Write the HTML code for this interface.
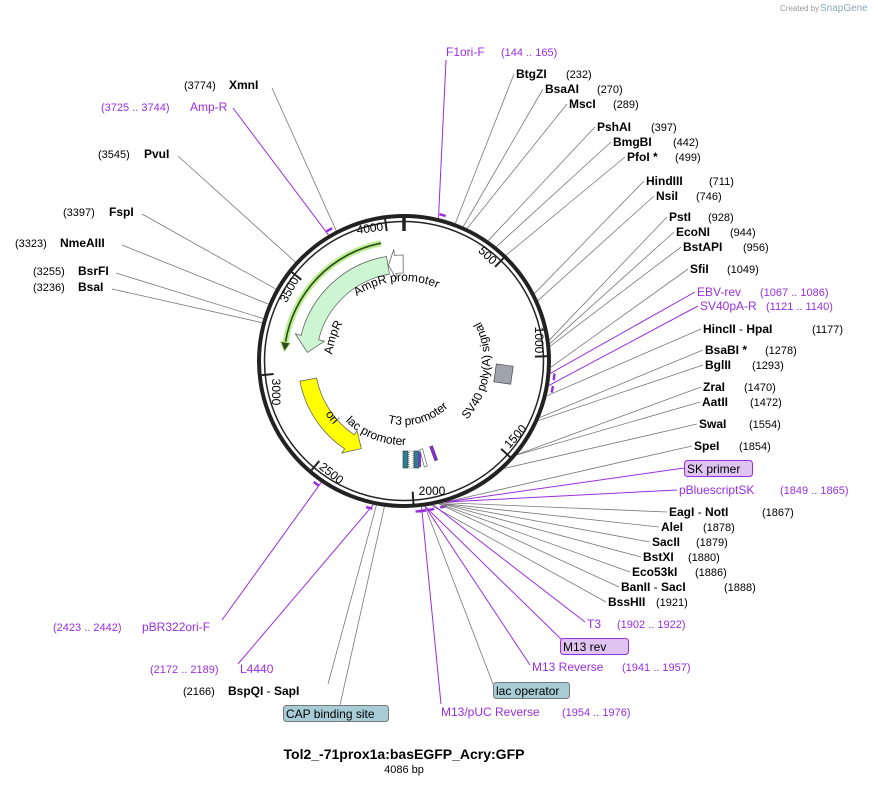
<!DOCTYPE html>
<html><head><meta charset="utf-8"><style>
body{margin:0;background:#fff;}
svg{display:block;font-family:"Liberation Sans",sans-serif;}
.n{font-size:12px;font-weight:bold;fill:#000}
.c{font-size:11px;fill:#000}
.p{font-size:12px;fill:#9a2ee0}
.pc{font-size:11px;fill:#9a2ee0}
.t{font-size:12px;fill:#000}
</style></head><body>
<svg id="s" width="878" height="812" viewBox="0 0 878 812" xmlns="http://www.w3.org/2000/svg">
<defs>
<path id="cw80" d="M404,441 A80,80 0 1,1 404,281 A80,80 0 1,1 404,441"/>
<path id="cw72" d="M404,433 A72,72 0 1,1 404,289 A72,72 0 1,1 404,433"/>
<path id="ccw86" d="M404,275 A86,86 0 1,0 404,447 A86,86 0 1,0 404,275"/>
<path id="ccw84" d="M404,277 A84,84 0 1,0 404,445 A84,84 0 1,0 404,277"/>
<path id="ccw64" d="M404,297 A64,64 0 1,0 404,425 A64,64 0 1,0 404,297"/>
<path id="ccw95" d="M404,266 A95,95 0 1,0 404,456 A95,95 0 1,0 404,266"/>
</defs>
<g id="lines"></g>
<circle cx="404" cy="361" r="145" fill="none" stroke="#222" stroke-width="4"/>
<circle cx="404" cy="361" r="139.5" fill="none" stroke="#222" stroke-width="1.5"/>
<g id="ticks"></g>
<g id="feat"></g>
<rect x="403" y="451" width="5" height="17" fill="#2e7f8f" stroke="#333" stroke-width="0.6"/>
<rect x="409" y="451" width="4" height="17" fill="#fff" stroke="#333" stroke-width="0.6" stroke-dasharray="1,1"/>
<rect x="414" y="451" width="5" height="17" fill="#2e7f8f" stroke="#333" stroke-width="0.6"/>
<rect x="419" y="452" width="2" height="15" fill="#8a2be2"/>
<rect x="422" y="449" width="3" height="18" fill="#fff" stroke="#555" stroke-width="0.6" transform="rotate(-15 423 458)"/>
<rect x="432" y="446" width="3" height="15" fill="#8a2be2" stroke="#333" stroke-width="0.5" transform="rotate(-20 433 453)"/>
<rect x="495" y="365" width="17" height="18" fill="#9fa3ab" stroke="#555" stroke-width="0.8" transform="rotate(8 503 374)"/>
<!-- feature labels -->
<text class="t"><textPath href="#cw80" startOffset="243" text-anchor="middle">AmpR promoter</textPath></text>
<text class="t"><textPath href="#cw72" startOffset="136" text-anchor="middle">AmpR</textPath></text>
<text class="t"><textPath href="#ccw86" startOffset="393" text-anchor="middle">SV40 poly(A) signal</textPath></text>
<text class="t"><textPath href="#ccw84" startOffset="232" text-anchor="middle">lac promoter</textPath></text>
<text class="t"><textPath href="#ccw64" startOffset="217" text-anchor="middle">T3 promoter</textPath></text>
<text class="t"><textPath href="#ccw95" startOffset="212" text-anchor="middle" dy="4">ori</textPath></text>
<!-- tick numbers -->
<g class="t" dominant-baseline="middle">
<text x="370" y="229" transform="rotate(-8 370 229)" text-anchor="middle">4000</text>
<text x="487" y="256" transform="rotate(44 487 256)" text-anchor="middle">500</text>
<text x="538" y="340" transform="rotate(90 538 340)" text-anchor="middle">1000</text>
<text x="516" y="437" transform="rotate(-48 516 437)" text-anchor="middle">1500</text>
<text x="432" y="492" text-anchor="middle">2000</text>
<text x="331" y="474" transform="rotate(38 331 474)" text-anchor="middle">2500</text>
<text x="275" y="392" transform="rotate(90 275 392)" text-anchor="middle">3000</text>
<text x="290" y="290" transform="rotate(-62 290 290)" text-anchor="middle">3500</text>
</g>
<!-- right labels -->
<text x="446" y="56" class="p">F1ori-F</text><text x="501" y="56" class="pc">(144 .. 165)</text>
<text x="516" y="78" class="n">BtgZI</text><text x="566" y="78" class="c">(232)</text>
<text x="545" y="93" class="n">BsaAI</text><text x="597" y="93" class="c">(270)</text>
<text x="569" y="108" class="n">MscI</text><text x="613" y="108" class="c">(289)</text>
<text x="597" y="131" class="n">PshAI</text><text x="651" y="131" class="c">(397)</text>
<text x="613" y="146" class="n">BmgBI</text><text x="673" y="146" class="c">(442)</text>
<text x="627" y="161" class="n">PfoI *</text><text x="675" y="161" class="c">(499)</text>
<text x="646" y="185" class="n">HindIII</text><text x="709" y="185" class="c">(711)</text>
<text x="656" y="200" class="n">NsiI</text><text x="696" y="200" class="c">(746)</text>
<text x="669" y="221" class="n">PstI</text><text x="708" y="221" class="c">(928)</text>
<text x="676" y="236" class="n">EcoNI</text><text x="730" y="236" class="c">(944)</text>
<text x="683" y="251" class="n">BstAPI</text><text x="743" y="251" class="c">(956)</text>
<text x="690" y="273" class="n">SfiI</text><text x="727" y="273" class="c">(1049)</text>
<text x="697" y="296" class="p">EBV-rev</text><text x="760" y="296" class="pc">(1067 .. 1086)</text>
<text x="700" y="310" class="p">SV40pA-R</text><text x="766" y="310" class="pc">(1121 .. 1140)</text>
<text x="703" y="333" class="n">HincII <tspan font-weight="normal">-</tspan> HpaI</text><text x="812" y="333" class="c">(1177)</text>
<text x="705" y="354" class="n">BsaBI *</text><text x="765" y="354" class="c">(1278)</text>
<text x="705" y="369" class="n">BglII</text><text x="752" y="369" class="c">(1293)</text>
<text x="703" y="391" class="n">ZraI</text><text x="744" y="391" class="c">(1470)</text>
<text x="702" y="406" class="n">AatII</text><text x="750" y="406" class="c">(1472)</text>
<text x="699" y="428" class="n">SwaI</text><text x="749" y="428" class="c">(1554)</text>
<text x="694" y="450" class="n">SpeI</text><text x="739" y="450" class="c">(1854)</text>
<rect x="684.5" y="460.5" width="68" height="16" rx="3" fill="#dfc4f2" stroke="#9a2ee0"/>
<text x="687" y="473" class="t">SK primer</text>
<text x="679" y="494" class="p">pBluescriptSK</text><text x="780" y="494" class="pc">(1849 .. 1865)</text>
<text x="669" y="516" class="n">EagI <tspan font-weight="normal">-</tspan> NotI</text><text x="762" y="516" class="c">(1867)</text>
<text x="661" y="531" class="n">AleI</text><text x="703" y="531" class="c">(1878)</text>
<text x="652" y="546" class="n">SacII</text><text x="696" y="546" class="c">(1879)</text>
<text x="643" y="561" class="n">BstXI</text><text x="688" y="561" class="c">(1880)</text>
<text x="632" y="576" class="n">Eco53kI</text><text x="695" y="576" class="c">(1886)</text>
<text x="621" y="591" class="n">BanII <tspan font-weight="normal">-</tspan> SacI</text><text x="724" y="591" class="c">(1888)</text>
<text x="608" y="606" class="n">BssHII</text><text x="656" y="606" class="c">(1921)</text>
<text x="587" y="628" class="p">T3</text><text x="617" y="628" class="pc">(1902 .. 1922)</text>
<rect x="560.5" y="638.5" width="68" height="16" rx="3" fill="#dfc4f2" stroke="#9a2ee0"/>
<text x="563" y="651" class="t">M13 rev</text>
<text x="532" y="671" class="p">M13 Reverse</text><text x="622" y="671" class="pc">(1941 .. 1957)</text>
<rect x="493.5" y="682.5" width="76" height="16" rx="3" fill="#a8ccd6" stroke="#777"/>
<text x="496" y="695" class="t">lac operator</text>
<text x="441" y="716" class="p">M13/pUC Reverse</text><text x="562" y="716" class="pc">(1954 .. 1976)</text>
<rect x="283.5" y="705.5" width="105" height="16" rx="3" fill="#a8ccd6" stroke="#777"/>
<text x="286" y="718" class="t">CAP binding site</text>
<text x="183" y="695" class="c">(2166)</text><text x="228" y="695" class="n">BspQI <tspan font-weight="normal">-</tspan> SapI</text>
<text x="150" y="673" class="pc">(2172 .. 2189)</text><text x="240" y="673" class="p">L4440</text>
<text x="53" y="631" class="pc">(2423 .. 2442)</text><text x="142" y="631" class="p">pBR322ori-F</text>
<!-- left labels -->
<text x="184" y="89" class="c">(3774)</text><text x="229" y="89" class="n">XmnI</text>
<text x="101" y="111" class="pc">(3725 .. 3744)</text><text x="190" y="111" class="p">Amp-R</text>
<text x="98" y="158" class="c">(3545)</text><text x="144" y="158" class="n">PvuI</text>
<text x="63" y="216" class="c">(3397)</text><text x="109" y="216" class="n">FspI</text>
<text x="15" y="247" class="c">(3323)</text><text x="60" y="247" class="n">NmeAIII</text>
<text x="33" y="275" class="c">(3255)</text><text x="78" y="275" class="n">BsrFI</text>
<text x="33" y="291" class="c">(3236)</text><text x="78" y="291" class="n">BsaI</text>
<text x="404" y="759" text-anchor="middle" font-size="14" font-weight="bold">Tol2_-71prox1a:basEGFP_Acry:GFP</text>
<text x="404" y="773" text-anchor="middle" font-size="11">4086 bp</text>
<text x="780" y="11" font-size="8" fill="#999">Created by</text><text x="820" y="11" font-size="10" fill="#8ab">SnapGene</text>
</svg>
<script>
var N=4086,cx=404,cy=361;
function pt(r,d){var a=d*Math.PI/180;return [cx+r*Math.sin(a),cy-r*Math.cos(a)];}
function P(p){return p[0].toFixed(1)+","+p[1].toFixed(1);}
var ns="http://www.w3.org/2000/svg";
function add(g,tag,at){var e=document.createElementNS(ns,tag);for(var k in at)e.setAttribute(k,at[k]);document.getElementById(g).appendChild(e);return e;}
var L=[[154,446,60,1],[232,514,74],[270,543,89],[289,567,104],[397,595,127],[442,611,142],[499,625,157],[711,644,181],[746,654,196],[928,667,217],[944,674,232],[956,681,247],[1049,688,269],[1076,695,292,1],[1130,698,306,1],[1177,701,329],[1278,703,350],[1293,703,365],[1470,701,387],[1472,700,402],[1554,697,424],[1854,692,446],[1857,684,468,1],[1857,677,490,1],[1867,667,512],[1878,659,527],[1879,650,542],[1880,641,557],[1886,630,572],[1888,619,587],[1921,606,602],[1912,585,622,1],[1949,562,640,1],[1949,530,665,1],[1950,493,684],[1965,441,704,1],[2130,340,705],[2166,328,684],[2180,238,664,1],[2432,222,620,1],
[3774,272,88],[3735,233,108,1],[3545,178,156],[3397,142,214],[3323,122,245],[3255,116,273],[3236,112,289]];
L.forEach(function(l){var a=l[0]/N*360,s=pt(147,a);add("lines","line",{x1:s[0],y1:s[1],x2:l[1],y2:l[2],stroke:l[3]?"#9a2ee0":"#777","stroke-width":l[3]?1:0.8});
 if(l[3]){var q=pt(151,a),q2=pt(151,a+2.5);add("lines","line",{x1:q[0],y1:q[1],x2:q2[0],y2:q2[1],stroke:"#9a2ee0","stroke-width":2.5});}});
for(var b=500;b<N;b+=500){var a=b/N*360,p1=pt(146,a),p2=pt(131,a);add("ticks","line",{x1:p1[0],y1:p1[1],x2:p2[0],y2:p2[1],stroke:"#222","stroke-width":2});}
add("ticks","line",{x1:404,y1:214,x2:404,y2:231,stroke:"#222","stroke-width":3.5});
function arrow(r1,r2,a1,a2,h,fill,st,w){var rm=(r1+r2)/2,ah=a2+h;w=w||6;
 var d="M"+P(pt(r2,a1))+" A"+r2+","+r2+" 0 0,0 "+P(pt(r2,ah))+" L"+P(pt(r2+w,ah))+" L"+P(pt(rm,a2))+" L"+P(pt(r1-w,ah))+" L"+P(pt(r1,ah))+" A"+r1+","+r1+" 0 0,1 "+P(pt(r1,a1))+" Z";
 add("feat","path",{d:d,fill:fill,stroke:st,"stroke-width":0.8});}
arrow(88,106,350.5,275,9,"#ccf5d2","#666");
arrow(88,106,359.5,350.8,4,"#fff","#666");
arrow(89,106,259,206,8,"#ffff00","#666",5);
var g1=pt(120,349),g2=pt(120,279);
add("feat","path",{d:"M"+P(g1)+" A120,120 0 0,0 "+P(g2),fill:"none",stroke:"#b8ee90","stroke-width":6});
add("feat","path",{d:"M"+P(g1)+" A120,120 0 0,0 "+P(g2),fill:"none",stroke:"#2d4a1a","stroke-width":1.6});
var h1=pt(125,279),h2=pt(120,274.5),h3=pt(115,279);
add("feat","path",{d:"M"+P(h1)+" L"+P(h2)+" L"+P(h3)+" Z",fill:"#2d4a1a",stroke:"#b8ee90","stroke-width":1});
</script>
</body></html>
